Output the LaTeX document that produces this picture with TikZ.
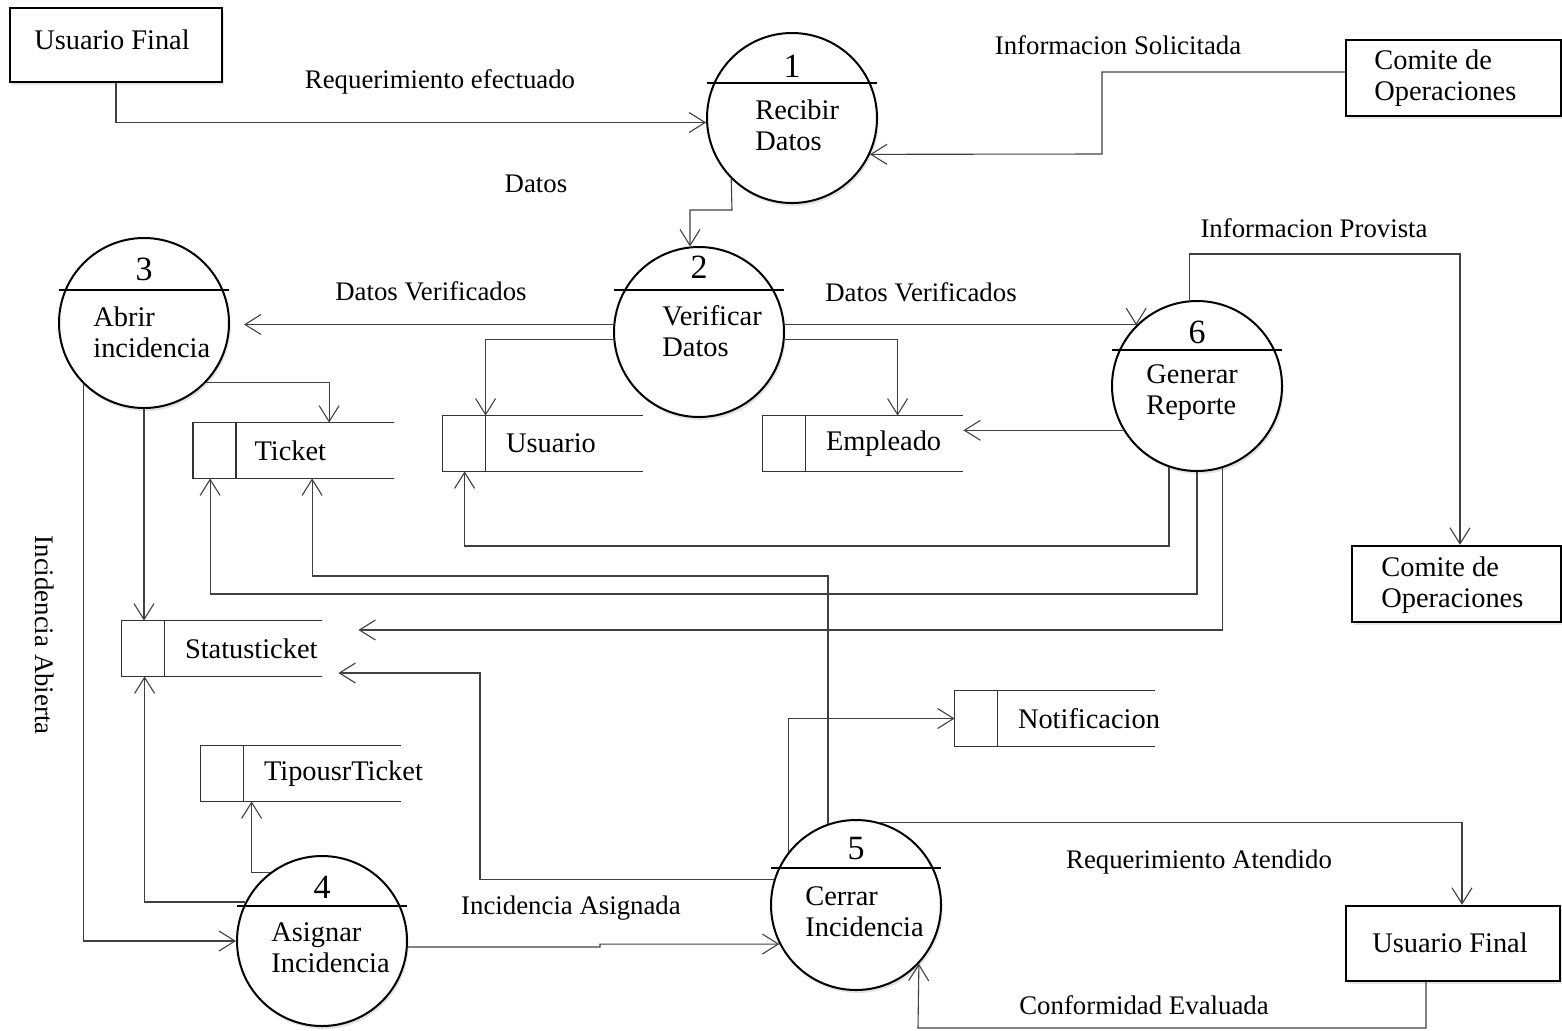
\documentclass[tikz,border=0pt]{standalone}
\usepackage{fontspec}
\setmainfont{Liberation Serif}
\usetikzlibrary{arrows.meta,shadows,calc}
\tikzset{
  flow/.style={draw=black!75, line width=0.55pt, -{Straight Barb[length=8pt,width=10pt]}},
  procc/.style={circle, draw=black, line width=1pt, fill=white, minimum size=85pt, inner sep=0pt,
    drop shadow={opacity=0.22, shadow xshift=0.8pt, shadow yshift=-1.5pt}},
  ent/.style={rectangle, draw=black, line width=1.2pt, fill=white, inner sep=0pt,
    drop shadow={opacity=0.2, shadow xshift=1pt, shadow yshift=-1.5pt}},
  divline/.style={draw=black, line width=0.6pt},
  storebox/.style={rectangle, inner sep=0pt, minimum width=100pt, minimum height=27.5pt},
  storeline/.style={draw=black!80, line width=0.65pt},
  lbl/.style={font=\fontsize{13.4}{15}\selectfont, inner sep=0pt},
  ptxt/.style={font=\fontsize{14.2}{15.5}\selectfont, align=left, inner sep=0pt},
  numtxt/.style={font=\fontsize{17}{19}\selectfont, inner sep=0pt}
}
\newcommand\dfdproc[9]{%
  \node[procc] (#1) at (#2,#3) {};
  \draw[divline] (#2-85,#3-#4) -- (#2+85,#3-#4);
  \node[numtxt] (#1n) at (#2,#6) {#5};
  \node[ptxt, anchor=west] (#1t) at (#7,#8) {#9};
}
\newcommand\dfdstore[5]{%
  \node[storebox] (#1) at (#2,#3) {};
  \draw[storeline] (#1.north east) -- (#1.north west) -- (#1.south west) -- (#1.south east);
  \draw[storeline] ([xshift=21.5pt]#1.north west) -- ([xshift=21.5pt]#1.south west);
  \node[ptxt, anchor=west] (#1t) at ([xshift=#5]#1.west) {#4};
}
\begin{document}
\begin{tikzpicture}[x=0.5pt,y=-0.5pt]
\useasboundingbox (0,0) rectangle (1562,1030);

% external entities
\node[ent, minimum width=106pt, minimum height=37pt] (e1) at (116,45) {};
\node[ptxt] (e1t) at (112,40) {Usuario Final};
\node[ent, minimum width=107.5pt, minimum height=38pt] (e2) at (1453.5,78) {};
\node[ptxt, anchor=west] (e2t) at (1374,78) {Comite de\\Operaciones};
\node[ent, minimum width=104.5pt, minimum height=38pt] (e3) at (1456.5,584) {};
\node[ptxt, anchor=west] (e3t) at (1381,585) {Comite de\\Operaciones};
\node[ent, minimum width=107pt, minimum height=37.5pt] (e4) at (1453,943.5) {};
\node[ptxt] (e4t) at (1450,943) {Usuario Final};

% processes
\dfdproc{p1}{792}{118}{35}{1}{66}{755}{125.5}{Recibir\\Datos}
\dfdproc{p2}{699}{332}{42}{2}{267}{662}{331.5}{Verificar\\Datos}
\dfdproc{p3}{144}{323}{33}{3}{269}{93}{332.5}{Abrir\\incidencia}
\dfdproc{p4}{322}{941}{35}{4}{887}{271}{947.5}{Asignar\\Incidencia}
\dfdproc{p5}{856}{905}{37}{5}{849}{805}{911.5}{Cerrar\\Incidencia}
\dfdproc{p6}{1197}{386}{36}{6}{332}{1146}{392.5}{Generar\\Reporte}

% data stores
\dfdstore{s1}{293.5}{450.5}{Ticket}{30.5pt}
\dfdstore{s2}{543}{443.5}{Usuario}{31.5pt}
\dfdstore{s3}{863}{443.5}{Empleado}{31.5pt}
\dfdstore{s4}{222}{648.5}{Statusticket}{31.5pt}
\dfdstore{s5}{301}{773.5}{TipousrTicket}{31.5pt}
\dfdstore{s6}{1055}{718.5}{Notificacion}{31.5pt}

% labels
\node[lbl] (l1) at (440,82) {Requerimiento efectuado};
\node[lbl] (l2) at (1118,45) {Informacion Solicitada};
\node[lbl] (l3) at (536,184) {Datos};
\node[lbl] (l4) at (431,291) {Datos Verificados};
\node[lbl] (l5) at (921,292) {Datos Verificados};
\node[lbl] (l6) at (1314,228) {Informacion Provista};
\node[lbl, rotate=-90] (l7) at (45,635) {Incidencia Abierta};
\node[lbl] (l8) at (571,908) {Incidencia Asignada};
\node[lbl] (l9) at (1199,862) {Requerimiento Atendido};
\node[lbl] (l10) at (1144,1005) {Conformidad Evaluada};

% connectors
\draw[flow] (e1.south) |- (p1.183);
\draw[flow] ([yshift=3pt]e2.west) -| (1102,154) -- (p1.335);
\draw[flow] (p1.225) -- (732,210) -| (p2.96);
\draw[flow, shorten >=7pt] (p2.175) -- (p2.175 -| p3.east);
\draw[flow] (p2.5) -| (p6.135);
\draw[flow] (p2.185) -| ([xshift=21.5pt]s2.north west);
\draw[flow] (p2.355) -| ([xshift=67.5pt]s3.north west);
\draw[flow] (p6.211) -- (p6.211 -| s3.east);
\draw[flow] (p6.251) |- (465,546) -| ([xshift=11pt]s2.south west);
\draw[flow] (p6.south) |- (211,594) -| ([xshift=8.5pt]s1.south west);
\coordinate (s4a) at ([xshift=18pt,yshift=9.25pt]s4.east);
\draw[flow] (p6.287) |- (s4a);
\draw[flow] (p5.109) |- (313,576) -| ([xshift=59.5pt]s1.south west);
\draw[flow] (p3.316) -| ([xshift=68pt]s1.north west);
\draw[flow] (p3.south) -- (p3.south |- s4.north);
\draw[flow] (p3.225) |- (p4.west);
\draw[flow] (p4.153) -| ([xshift=11.5pt]s4.south west);
\draw[flow] (p4.127) -| ([xshift=25.5pt]s5.south west);
\draw[flow] (p4.356) -- (600,947) |- (p5.207);
\coordinate (s4b) at ([xshift=8pt,yshift=-12.25pt]s4.east);
\draw[flow] (p5.163) -| (480,673) -- (s4b);
\draw[flow] (p5.142) |- (s6.west);
\draw[flow] (p5.74) -| ([xshift=4.5pt]e4.north);
\draw[flow] ([xshift=-13.5pt]e4.south) |- (918,1028) -- (p5.317);
\draw[flow] (p6.95) |- (1460,254) -| ([xshift=1.75pt]e3.north);
\end{tikzpicture}
\end{document}
